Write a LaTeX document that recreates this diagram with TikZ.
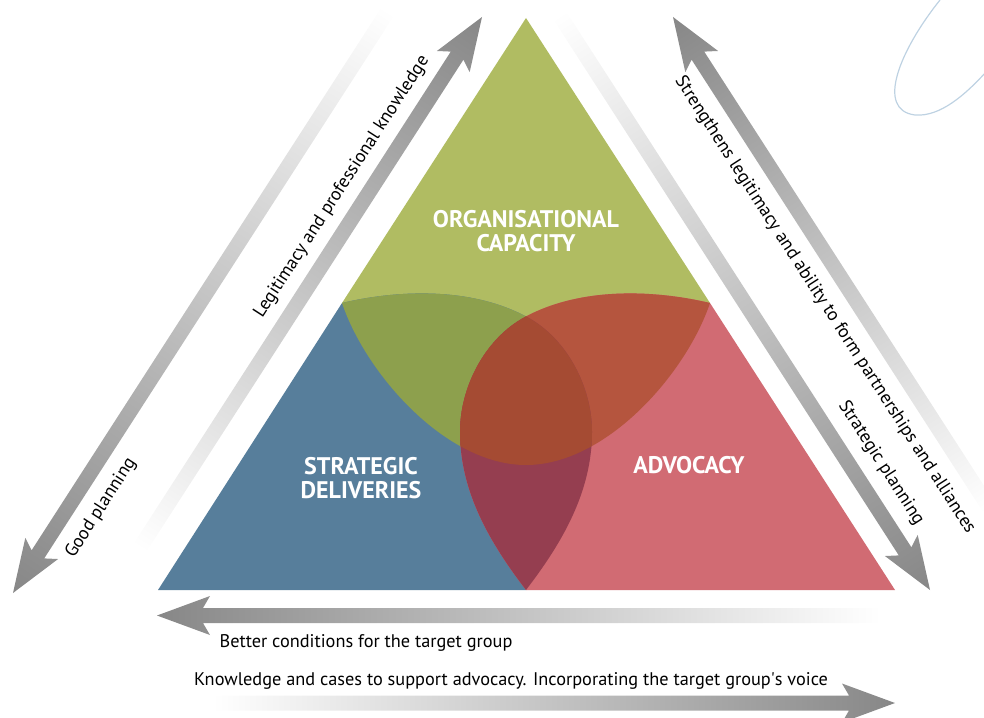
\documentclass[tikz,border=0pt]{standalone}
\usepackage{fontspec}
\setmainfont{PT Sans}
\usepackage{tikz}

\definecolor{capgreen}{RGB}{176,188,98}
\definecolor{delblue}{RGB}{87,126,155}
\definecolor{advred}{RGB}{209,107,115}
\definecolor{greenblue}{RGB}{141,160,77}
\definecolor{greenred}{RGB}{181,85,62}
\definecolor{bluered}{RGB}{149,62,80}
\definecolor{allthree}{RGB}{165,75,51}
\definecolor{arrowgray}{RGB}{135,135,135}
\definecolor{swirl}{RGB}{190,210,226}

% tip x, tip y, angle, length
\newcommand{\fadearrow}[4]{%
\begin{scope}[transform canvas={shift={(#1,#2)},rotate=#3}]
\shade[left color=white, right color=arrowgray] (-#4,-7.5) -- (-46,-7.5) -- (-53,-19.5) -- (0,0) -- (-53,19.5) -- (-46,7.5) -- (-#4,7.5) -- cycle;
\end{scope}}

\begin{document}
\begin{tikzpicture}[x=1pt,y=-1pt,
	lbl/.style={font=\fontsize{18.3}{21}\selectfont},
	area/.style={font=\bfseries\fontsize{24}{24}\selectfont, text=white, align=center}]
\useasboundingbox (0,0) rectangle (984,717);
\clip (0,0) rectangle (984,717);

\def\greenarea{(526,18) -- (342,303) .. controls (366,374) and (446,465) .. (526,465) .. controls (606,465) and (686,374) .. (710,303) -- cycle}
\def\bluearea{(342,303) .. controls (390,291.5) and (467,284.6) .. (527,317) .. controls (567,338.6) and (592,387) .. (592,432) .. controls (592,492) and (562,543) .. (526,590) -- (158,590) -- cycle}
\def\redarea{(710,303) .. controls (662,291.5) and (585,284.6) .. (525,317) .. controls (485,338.6) and (460,387) .. (460,432) .. controls (460,492) and (490,543) .. (526,590) -- (895,590) -- cycle}

\fill[capgreen] \greenarea;
\fill[delblue] \bluearea;
\fill[advred] \redarea;

\begin{scope}
\clip \greenarea;
\fill[greenblue] \bluearea;
\fill[greenred] \redarea;
\end{scope}

\begin{scope}
\clip \bluearea;
\fill[bluered] \redarea;
\end{scope}

\begin{scope}
\clip \greenarea;
\clip \bluearea;
\fill[allthree] \redarea;
\end{scope}

\draw (526,231) node[area] (orgcap) {ORGANISATIONAL\\CAPACITY};
\draw (361,478) node[area] (strdel) {STRATEGIC\\DELIVERIES};
\draw (689,465) node[area] (advoc) {ADVOCACY};

\fadearrow{13}{593}{237.2}{693}
\fadearrow{482}{17}{57.2}{632}
\fadearrow{673}{17}{122.8}{585}
\fadearrow{930}{590}{-57.2}{685}
\fadearrow{157}{615.5}{180}{723}
\fadearrow{895}{703}{0}{682}

\draw (342,187) node[lbl, rotate=57.2] (legit) {Legitimacy and professional knowledge};
\draw (101,508) node[lbl, rotate=57.2] (goodplan) {Good planning};
\draw (825,305) node[lbl, rotate=-57.2] (strength) {Strengthens legitimacy and ability to form partnerships and alliances};
\draw (881,463) node[lbl, rotate=-57.2] (stratplan) {Strategic planning};
\draw (366,647) node[lbl, anchor=base] (better) {Better conditions for the target group};
\draw (511,685) node[lbl, anchor=base] (knowledge) {Knowledge and cases to support advocacy. Incorporating the target group\textquotesingle s voice};

\draw[swirl, line width=1.2] (940,0) .. controls (900,50) and (875,110) .. (915,115) .. controls (940,117) and (965,95) .. (986,72);

\end{tikzpicture}
\end{document}
